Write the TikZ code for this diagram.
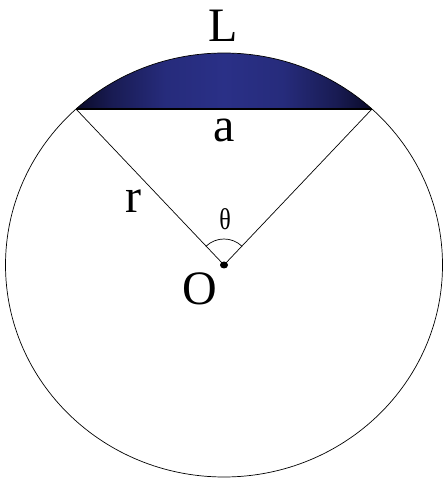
\documentclass[tikz,border=0pt]{standalone}
\usepackage{fontspec}
\setmainfont{Liberation Serif}
\usetikzlibrary{calc}
\definecolor{segdark}{RGB}{10,10,40}
\definecolor{seglight}{RGB}{42,48,135}
\pgfdeclarehorizontalshading{segshade}{100bp}{color(0bp)=(segdark); color(25bp)=(segdark);
  color(31bp)=(seglight!45!segdark); color(40bp)=(seglight!88!segdark); color(50bp)=(seglight);
  color(60bp)=(seglight!88!segdark); color(69bp)=(seglight!45!segdark);
  color(75bp)=(segdark); color(100bp)=(segdark)}

\begin{document}
\begin{tikzpicture}[x=1pt,y=1pt,line width=0.7pt,
  lbl/.style={anchor=base,inner sep=0pt,font=\fontsize{48}{48}\selectfont},
  ang/.style={anchor=base,inner sep=0pt,xscale=0.8,font=\fontsize{30}{30}\selectfont}]
\useasboundingbox (0,0) rectangle (442,479);
\coordinate (O) at (224,214);
\coordinate (A) at ($(O)+(132.63:218.5 and 212)$);
\coordinate (B) at ($(O)+(47.37:218.5 and 212)$);
% circular segment
\shade[shading=segshade]
  (A) arc[start angle=132.63,end angle=47.37,x radius=218.5,y radius=212] -- cycle;
\draw (O) ellipse[x radius=218.5,y radius=212];
\draw[line width=1.2pt] (A) -- (B);
\draw (A) -- (O) -- (B);
\draw ($(O)+(46:26)$) arc[start angle=46,end angle=134,radius=26];
\fill (O) ellipse[x radius=4,y radius=3.5];
\node[lbl] (lL) at (223,437) {L};
\node[lbl] (la) at (224,337) {a};
\node[lbl] (lr) at (133,266) {r};
\node[lbl] (lO) at (200,174) {O};
\node[ang] (lth) at (225,249) {θ};
\end{tikzpicture}
\end{document}
